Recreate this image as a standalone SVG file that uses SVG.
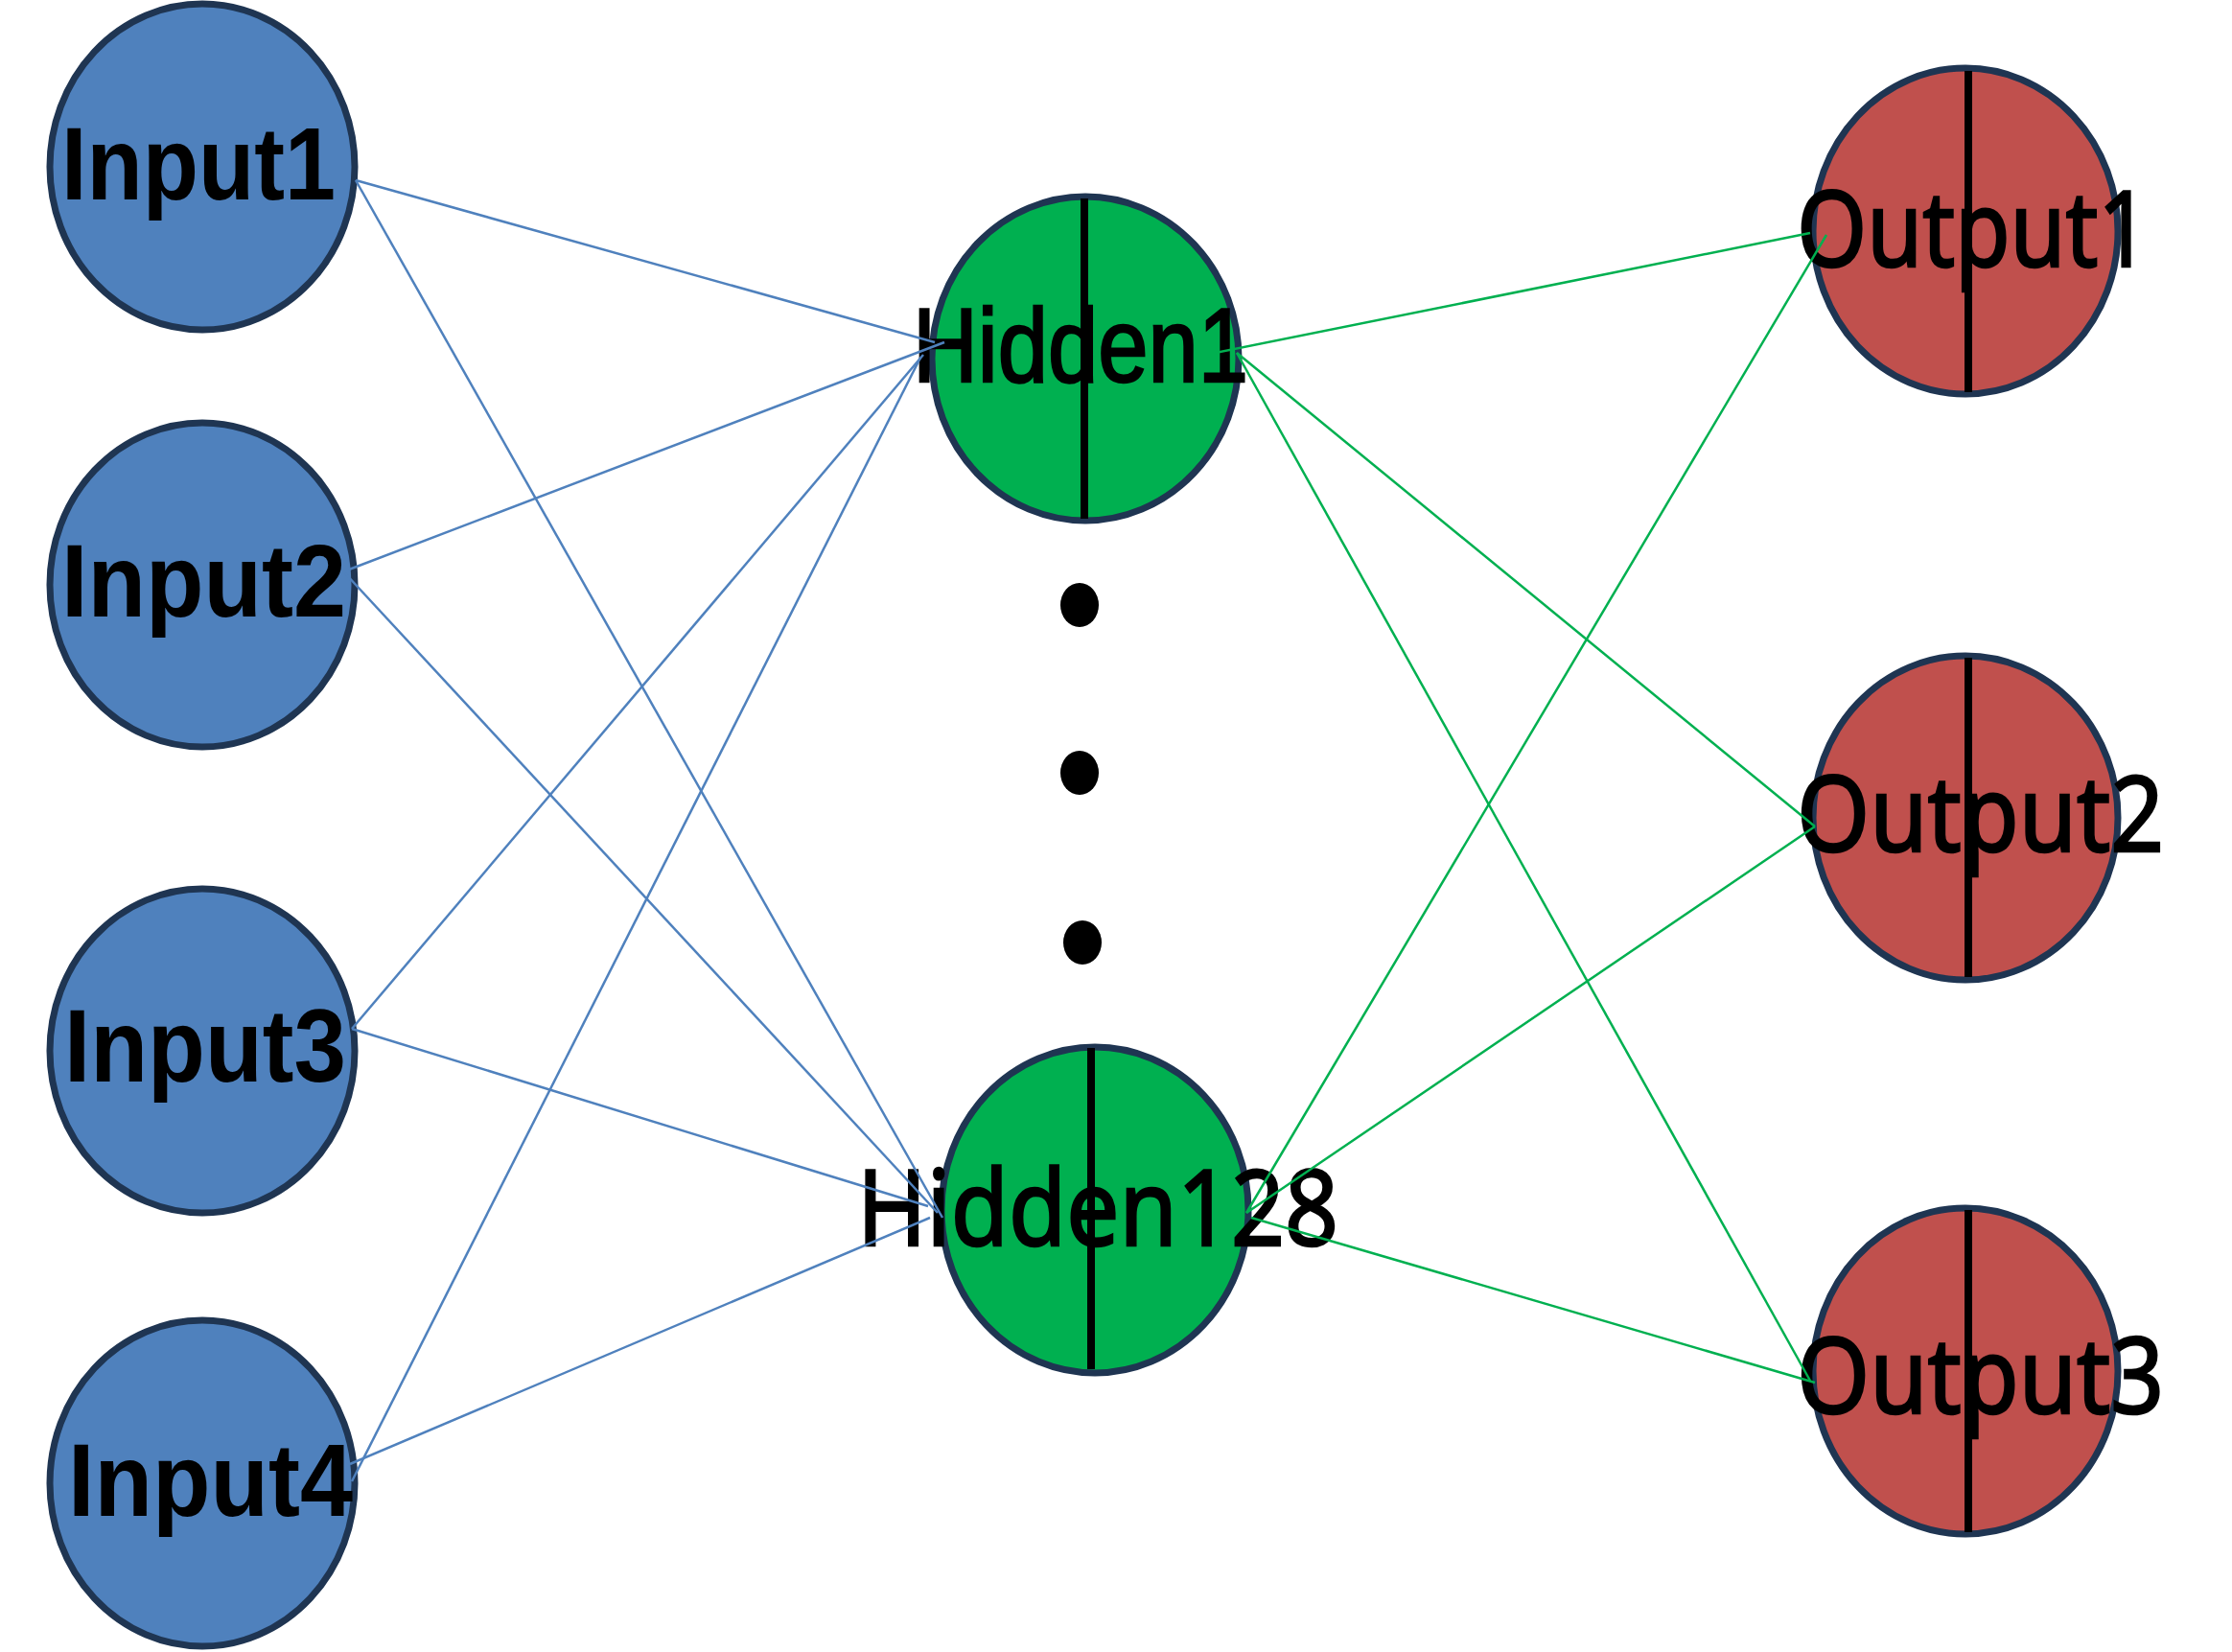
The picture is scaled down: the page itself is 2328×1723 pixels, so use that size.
<svg xmlns="http://www.w3.org/2000/svg" width="2328" height="1723" viewBox="0 0 2328 1723">
<style>
.node { stroke: #1F3552; stroke-width: 7; }
.inp { fill: #4F81BD; }
.hid { fill: #00B050; }
.out { fill: #C0504D; }
.div { stroke: #000; stroke-width: 8; }
.lblIn { font-family: "Liberation Sans", Arial, sans-serif; font-weight: bold; font-size: 108px; fill: #000; }
.lblH { font-family: "Liberation Sans", Arial, sans-serif; font-size: 110px; fill: #000; stroke: #000; stroke-width: 2.5; }
.lblN { font-family: "Noto Sans", "Open Sans", sans-serif; font-size: 110px; fill: #000; stroke: #000; stroke-width: 2.5; }
.cb { stroke: #4F81BD; stroke-width: 2.5; fill: none; }
.cg { stroke: #00B050; stroke-width: 2.5; fill: none; }
</style>
<rect width="2328" height="1723" fill="#FFFFFF"/>
<g id="input1">
  <ellipse class="node inp" cx="211" cy="174" rx="159" ry="170"/>
  <text class="lblIn" x="64" y="208" textLength="286" lengthAdjust="spacingAndGlyphs">Input1</text>
</g>
<g id="input2">
  <ellipse class="node inp" cx="211" cy="610" rx="159" ry="169"/>
  <text class="lblIn" x="64" y="643" textLength="297" lengthAdjust="spacingAndGlyphs">Input2</text>
</g>
<g id="input3">
  <ellipse class="node inp" cx="211" cy="1096" rx="159" ry="169"/>
  <text class="lblIn" x="67" y="1128" textLength="294" lengthAdjust="spacingAndGlyphs">Input3</text>
</g>
<g id="input4">
  <ellipse class="node inp" cx="211" cy="1547" rx="159" ry="170"/>
  <text class="lblIn" x="71" y="1581" textLength="297" lengthAdjust="spacingAndGlyphs">Input4</text>
</g>
<g id="hidden1">
  <ellipse class="node hid" cx="1132" cy="374" rx="160" ry="169"/>
  <text class="lblH" x="952" y="398" textLength="350" lengthAdjust="spacingAndGlyphs">Hidden1</text>
  <line class="div" x1="1131" y1="207" x2="1131" y2="541"/>
</g>
<g id="ellipsis">
  <ellipse cx="1126" cy="631" rx="20" ry="23" fill="#000"/>
  <ellipse cx="1126" cy="806" rx="20" ry="23" fill="#000"/>
  <ellipse cx="1129" cy="983" rx="20" ry="23" fill="#000"/>
</g>
<g id="hidden128">
  <ellipse class="node hid" cx="1142" cy="1262" rx="160" ry="170"/>
  <text class="lblN" x="894" y="1299" textLength="502" lengthAdjust="spacingAndGlyphs">Hidden128</text>
  <line class="div" x1="1138" y1="1093" x2="1138" y2="1428"/>
</g>
<g id="output1">
  <ellipse class="node out" cx="2050" cy="241" rx="159" ry="170"/>
  <text class="lblN" x="1874" y="278" textLength="368" lengthAdjust="spacingAndGlyphs">Output1</text>
  <line class="div" x1="2053" y1="74" x2="2053" y2="409"/>
</g>
<g id="output2">
  <ellipse class="node out" cx="2050" cy="853" rx="159" ry="169"/>
  <text class="lblN" x="1874" y="888" textLength="383" lengthAdjust="spacingAndGlyphs">Output2</text>
  <line class="div" x1="2053" y1="686" x2="2053" y2="1019"/>
</g>
<g id="output3">
  <ellipse class="node out" cx="2050" cy="1430" rx="159" ry="170"/>
  <text class="lblN" x="1874" y="1474" textLength="383" lengthAdjust="spacingAndGlyphs">Output3</text>
  <line class="div" x1="2053" y1="1262" x2="2053" y2="1598"/>
</g>
<g id="connectors">
  <line class="cb" x1="371" y1="188" x2="975" y2="357"/>
  <line class="cb" x1="371" y1="188" x2="983" y2="1270"/>
  <line class="cb" x1="364" y1="594" x2="985" y2="357"/>
  <line class="cb" x1="360" y1="598" x2="978" y2="1265"/>
  <line class="cb" x1="367" y1="1073" x2="963" y2="370"/>
  <line class="cb" x1="367" y1="1073" x2="968" y2="1258"/>
  <line class="cb" x1="367" y1="1545" x2="960" y2="373"/>
  <line class="cb" x1="365" y1="1527" x2="970" y2="1270"/>
  <line class="cg" x1="1268" y1="368" x2="1888" y2="243"/>
  <line class="cg" x1="1290" y1="368" x2="1893" y2="862"/>
  <line class="cg" x1="1290" y1="368" x2="1888" y2="1440"/>
  <line class="cg" x1="1300" y1="1265" x2="1905" y2="245"/>
  <line class="cg" x1="1300" y1="1265" x2="1893" y2="862"/>
  <line class="cg" x1="1305" y1="1270" x2="1893" y2="1442"/>
</g>
</svg>
